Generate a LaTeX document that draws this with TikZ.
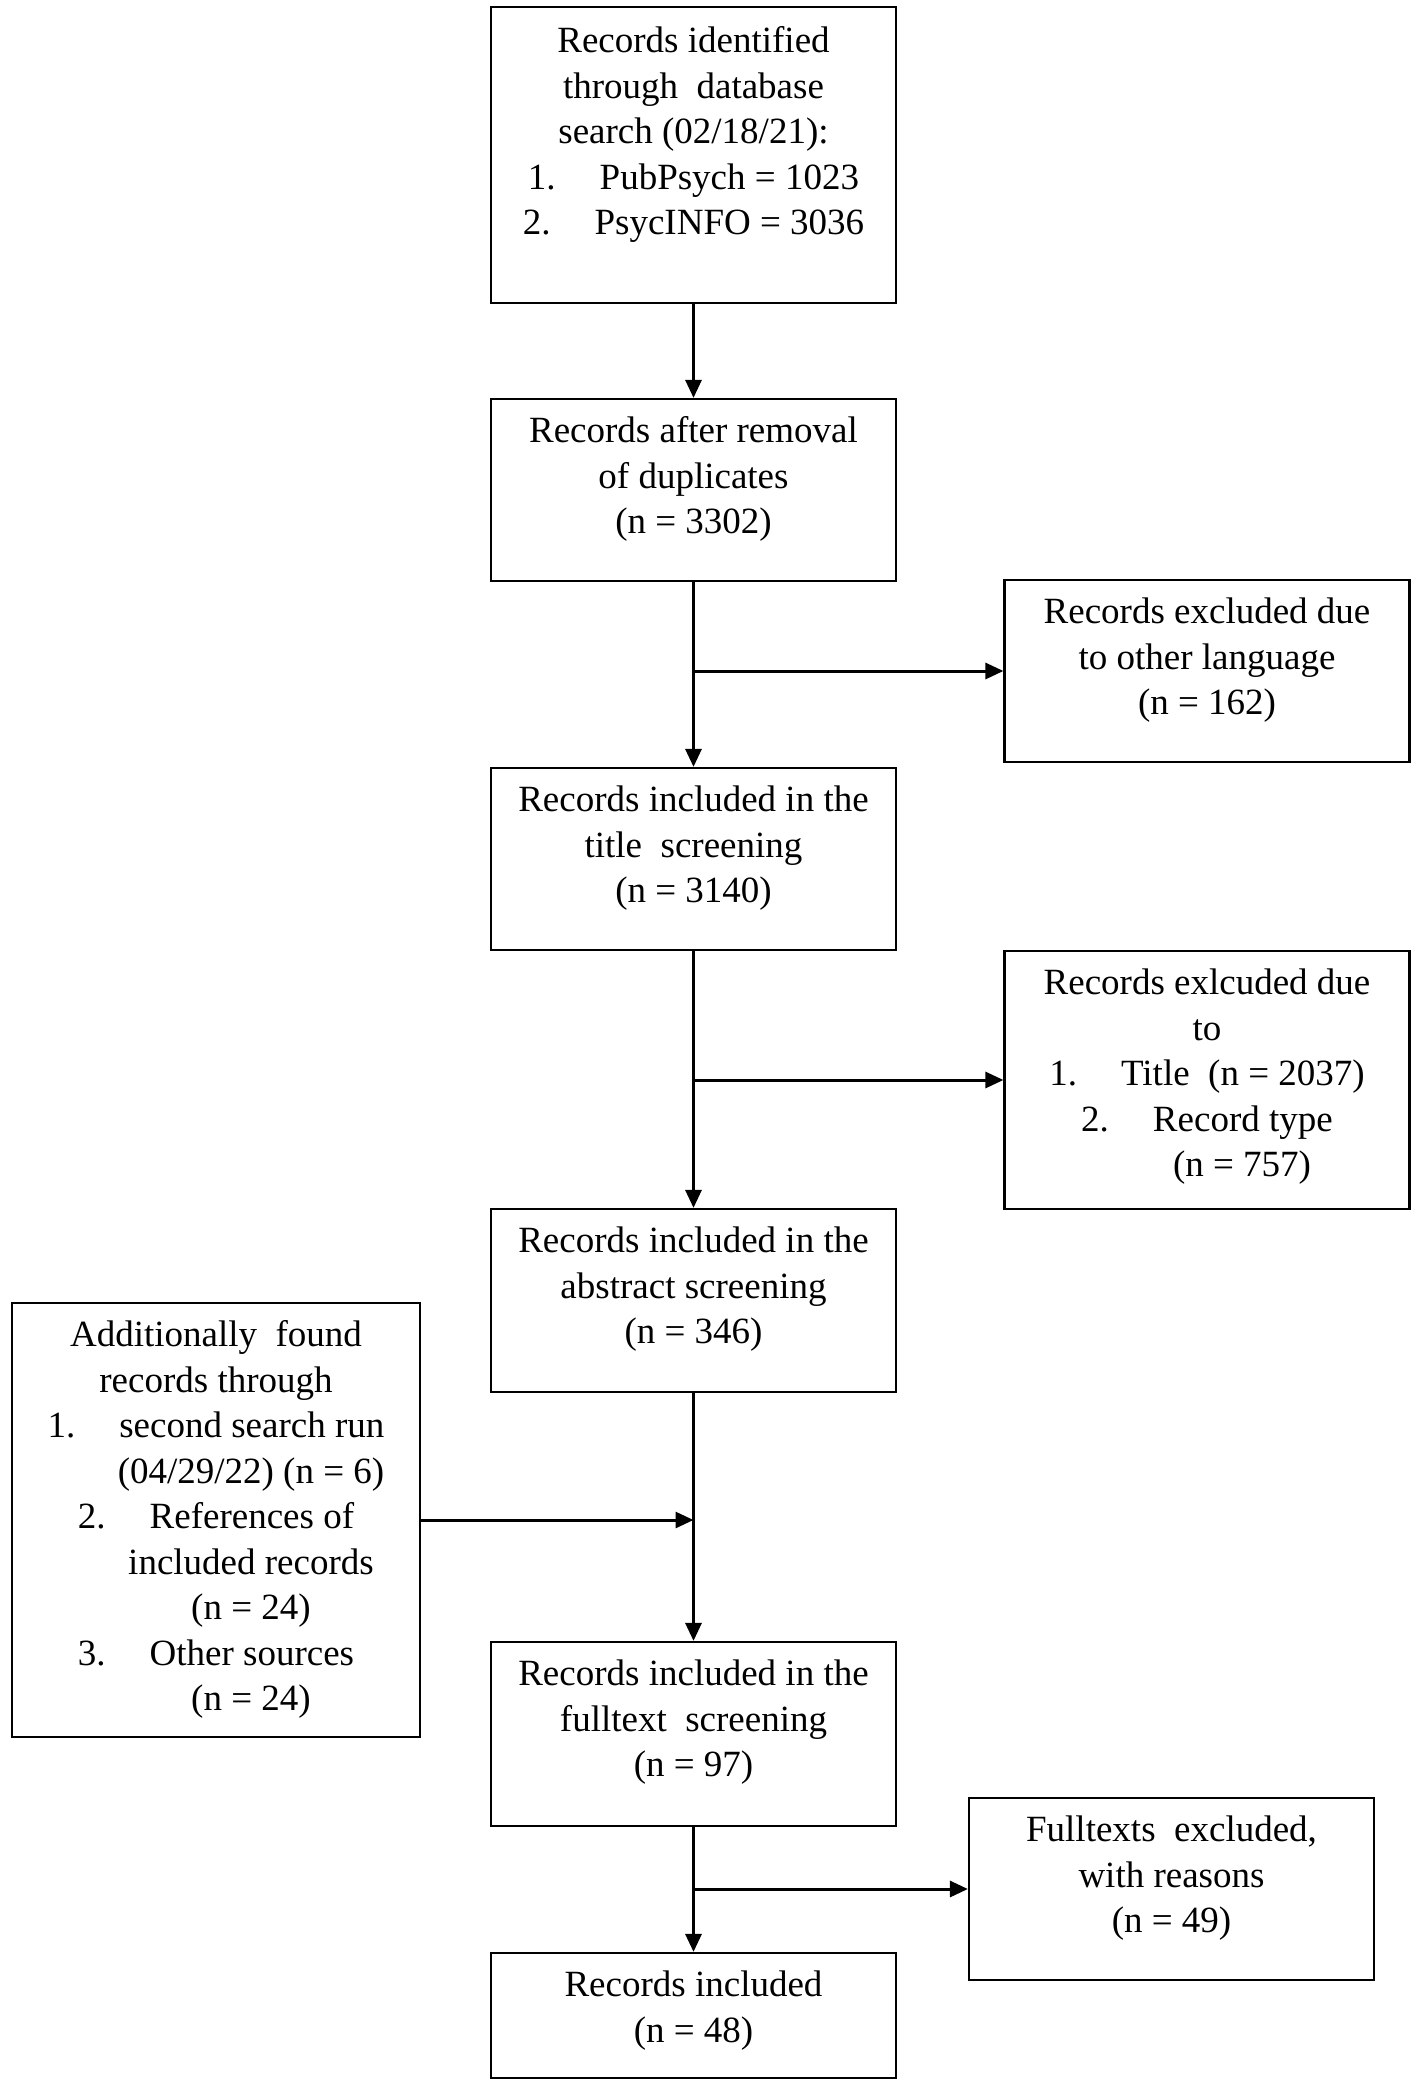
\documentclass[tikz,border=0pt]{standalone}
\usepackage{fontspec}
\setmainfont{Liberation Serif}
\usetikzlibrary{arrows.meta,calc}
\begin{document}
\begin{tikzpicture}[x=1pt,y=-1pt,
  box/.style={draw=black, line width=2.2pt, inner sep=0pt, minimum width=405pt},
  txt/.style={align=center, inner sep=0pt, anchor=north, font=\fontsize{37}{45.5}\selectfont},
  arr/.style={line width=3pt, -{Triangle[length=18pt,width=16pt]}}]
\useasboundingbox (0,0) rectangle (1418,2087);
\fill[white] (0,0) rectangle (1418,2087);
% boxes
\node[box, minimum height=296pt] (b1) at (693.5,155) {};
\node[box, minimum height=182pt] (b2) at (693.5,490) {};
\node[box, minimum height=182pt] (b3) at (1207,671) {};
\node[box, minimum height=182pt] (b4) at (693.5,859) {};
\node[box, minimum height=258pt] (b5) at (1207,1080) {};
\node[box, minimum height=183pt] (b6) at (693.5,1300.5) {};
\node[box, minimum height=434pt, minimum width=408pt] (b7) at (216,1520) {};
\node[box, minimum height=184pt] (b8) at (693.5,1734) {};
\node[box, minimum height=182pt] (b9) at (1171.5,1889) {};
\node[box, minimum height=125pt] (b10) at (693.5,2015.5) {};
% texts
\node[txt] (t1) at ([yshift=-15pt]b1.north) {\strut Records identified\\ through\ \ database\\ search (02/18/21):\\ 1.\hspace{44pt}PubPsych = 1023\\ 2.\hspace{44pt}PsycINFO = 3036};
\node[txt] (t2) at ([yshift=-13pt]b2.north) {\strut Records after removal\\ of duplicates\\ (n = 3302)};
\node[txt] (t3) at ([yshift=-13pt]b3.north) {\strut Records excluded due\\ to other language\\ (n = 162)};
\node[txt] (t4) at ([yshift=-13pt]b4.north) {\strut Records included in the\\ title\ \ screening\\ (n = 3140)};
\node[txt] (t5) at ([yshift=-13pt]b5.north) {\strut Records exlcuded due\\ to\\ 1.\hspace{44pt}Title\ \ (n = 2037)\\ 2.\hspace{44pt}Record type\\ \hspace*{70pt}(n = 757)};
\node[txt] (t6) at ([yshift=-13pt]b6.north) {\strut Records included in the\\ abstract screening\\ (n = 346)};
\node[txt] (t7) at ([yshift=-13pt]b7.north) {\strut Additionally\ \ found\\ records through\\ 1.\hspace{44pt}second search run\\ \hspace*{70pt}(04/29/22) (n = 6)\\ 2.\hspace{44pt}References of\\ \hspace*{70pt}included records\\ \hspace*{70pt}(n = 24)\\ 3.\hspace{44pt}Other sources\\ \hspace*{70pt}(n = 24)};
\node[txt] (t8) at ([yshift=-13pt]b8.north) {\strut Records included in the\\ fulltext\ \ screening\\ (n = 97)};
\node[txt] (t9) at ([yshift=-13pt]b9.north) {\strut Fulltexts\ \ excluded,\\ with reasons\\ (n = 49)};
\node[txt] (t10) at ([yshift=-13pt]b10.north) {\strut Records included\\ (n = 48)};
% connectors
\coordinate (j1) at (b2.south |- b3.west);
\coordinate (j2) at (b4.south |- b5.west);
\coordinate (j3) at (b6.south |- b7.east);
\coordinate (j4) at (b8.south |- b9.west);
\draw[arr] (b1.south) -- (b2.north);
\draw[arr] (b2.south) -- (b4.north);
\draw[arr] (j1) -- (b3.west);
\draw[arr] (b4.south) -- (b6.north);
\draw[arr] (j2) -- (b5.west);
\draw[arr] (b6.south) -- (b8.north);
\draw[arr] (b7.east) -- (j3);
\draw[arr] (b8.south) -- (b10.north);
\draw[arr] (j4) -- (b9.west);
\end{tikzpicture}
\end{document}
